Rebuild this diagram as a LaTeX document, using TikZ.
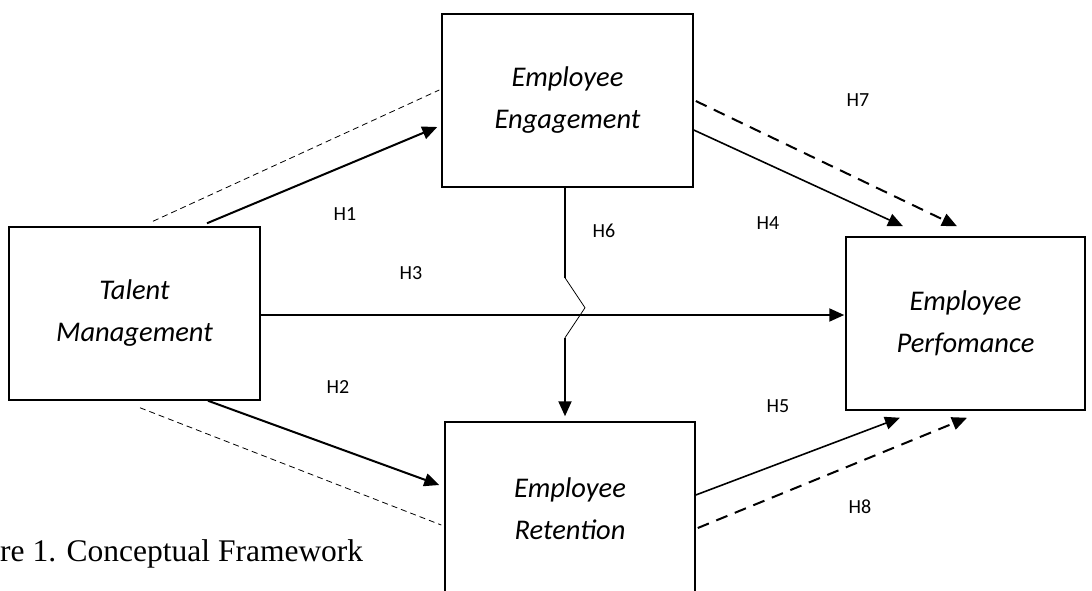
\documentclass[tikz,border=0pt]{standalone}
\usepackage{fontspec}
\setmainfont{Carlito}
\newfontfamily\capfont{Liberation Serif}
\usetikzlibrary{arrows.meta,calc}
\begin{document}
\begin{tikzpicture}[x=1pt,y=1pt,
  varbox/.style={draw,line width=1.5pt,minimum width=251pt,minimum height=173pt,
    align=center,inner sep=0pt,font=\fontsize{28.5}{42}\selectfont\itshape},
  hlabel/.style={font=\fontsize{20}{24}\selectfont,inner sep=0pt},
  arr/.style={line width=2pt,-{Triangle[length=15pt,width=13pt]}},
  arrthin/.style={line width=1.6pt,-{Triangle[length=15pt,width=13pt]}},
  arrdash/.style={line width=2pt,dash pattern=on 12pt off 8pt,-{Triangle[length=15pt,width=13pt]}},
  guide/.style={line width=0.8pt,dash pattern=on 6pt off 4pt}]
\useasboundingbox (0,0) rectangle (1092,-590);
\node[varbox] (tm) at (134.5,-313.5) {Talent\\Management};
\node[varbox] (ee) at (567.5,-100.5) {Employee\\Engagement};
\node[varbox,minimum width=250pt] (er) at (570,-508.5) {Employee\\Retention};
\node[varbox,minimum width=239pt] (ep) at (965.5,-323.5) {Employee\\Perfomance};
% guides
\draw[guide] ($(tm.north)+(18.5,5)$) -- ($(ee.west)+(-2,10.5)$);
\draw[guide] ($(tm.south)+(5.5,-7)$) -- ($(er.west)+(-3,-16.5)$);
% H1 H2 H3
\draw[arr] ($(tm.north)+(72.5,3)$) -- ($(ee.west)+(-4,-26.5)$);
\draw[arr] ($(tm.south)+(73.5,0)$) -- ($(er.west)+(-5,23.5)$);
\draw[arr] ($(tm.east)+(0,-1.5)$) -- ($(ep.west)+(-1,8.5)$);
% H6 with jump
\coordinate (j1) at ($(ee.south)+(-2.5,-90)$);
\coordinate (j2) at ($(ee.south)+(17.5,-120)$);
\coordinate (j3) at ($(ee.south)+(-2.5,-150)$);
\draw[line width=1.3pt] ($(ee.south)+(-2.5,0)$) -- (j1);
\draw[line width=0.8pt] (j1) -- (j2) -- (j3);
\draw[arr] (j3) -- ($(er.north)+(-5,5)$);
% H4 H7
\draw[arrthin] ($(ee.east)+(0,-29.5)$) -- ($(ep.north)+(-62.5,10)$);
\draw[arrdash] ($(ee.east)+(2,-0.5)$) -- ($(ep.north)+(-8.5,10)$);
% H5 H8
\draw[arrthin] ($(er.east)+(0,13.5)$) -- ($(ep.south)+(-65.5,-7)$);
\draw[arrdash] ($(er.east)+(2,-19.5)$) -- ($(ep.south)+(1.5,-7)$);
% labels
\node[hlabel] (l1) at (345,-214) {H1};
\node[hlabel] (l2) at (338,-387) {H2};
\node[hlabel] (l3) at (411,-273.5) {H3};
\node[hlabel] (l4) at (768,-223.5) {H4};
\node[hlabel] (l5) at (778,-406.5) {H5};
\node[hlabel] (l6) at (604,-231) {H6};
\node[hlabel] (l7) at (858,-100) {H7};
\node[hlabel] (l8) at (860,-507) {H8};
% caption
\node[anchor=base west,inner sep=0pt,font=\capfont\fontsize{31.5}{36}\selectfont] (cap) at (0,-561) {re 1. Conceptual Framework};
\end{tikzpicture}
\end{document}
